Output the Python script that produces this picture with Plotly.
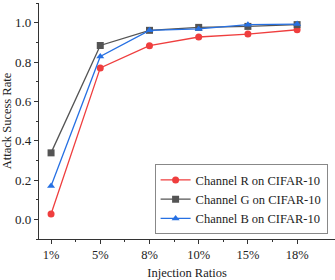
import plotly.graph_objects as go

categories = ["1%", "5%", "8%", "10%", "15%", "18%"]
channel_r = [0.027, 0.77, 0.883, 0.927, 0.942, 0.964]
channel_g = [0.338, 0.884, 0.961, 0.976, 0.981, 0.99]
channel_b = [0.17, 0.828, 0.961, 0.968, 0.99, 0.993]
series_names = ["Channel R on CIFAR-10", "Channel G on CIFAR-10", "Channel B on CIFAR-10"]
y_ticks = [0.0, 0.2, 0.4, 0.6, 0.8, 1.0]

x_pos = list(range(len(categories)))
FONT = "Liberation Serif"

fig = go.Figure()
styles = [
    (channel_r, "#ef3e3e", "circle"),
    (channel_g, "#545454", "square"),
    (channel_b, "#2670e3", "triangle-up"),
]
for (vals, color, sym), name in zip(styles, series_names):
    fig.add_trace(go.Scatter(
        x=x_pos, y=vals, name=name, mode="lines+markers",
        line=dict(color=color, width=1.3),
        marker=dict(color=color, symbol=sym, size=7),
    ))

fig.update_layout(
    width=335, height=280,
    margin=dict(l=39, r=0, t=3, b=41),
    paper_bgcolor="white", plot_bgcolor="white",
    font=dict(family=FONT, size=12, color="#222"),
    showlegend=True,
    legend=dict(
        x=0.975, y=0.02, xanchor="right", yanchor="bottom",
        bordercolor="#888", borderwidth=1, bgcolor="white",
        font=dict(family=FONT, size=12.5, color="#222"),
        tracegroupgap=0, itemwidth=30,
    ),
    xaxis=dict(
        range=[-0.245, 5.77],
        tickvals=x_pos, ticktext=categories,
        showgrid=False, zeroline=False,
        showline=True, linecolor="#333", linewidth=1.2,
        ticks="outside", ticklen=4, tickcolor="#333",
        minor=dict(tickvals=[0.5, 1.5, 2.5, 3.5, 4.5], ticks="outside", ticklen=2, tickcolor="#333"),
        title=dict(text="Injection Ratios", font=dict(family=FONT, size=12.5), standoff=8),
        tickfont=dict(family=FONT, size=12.5),
    ),
    yaxis=dict(
        range=[-0.1, 1.1],
        tickvals=y_ticks, ticktext=["%.1f" % v for v in y_ticks],
        showgrid=False, zeroline=False,
        showline=True, linecolor="#333", linewidth=1.2,
        ticks="outside", ticklen=4, tickcolor="#333",
        minor=dict(dtick=0.1, tick0=0, ticks="outside", ticklen=2, tickcolor="#333"),
        title=dict(text="Attack Sucess Rate", font=dict(family=FONT, size=12.5), standoff=4),
        tickfont=dict(family=FONT, size=13),
    ),
)

fig.write_html("out.html", config={"displayModeBar": False},
               post_script="document.body.style.margin='0';")
